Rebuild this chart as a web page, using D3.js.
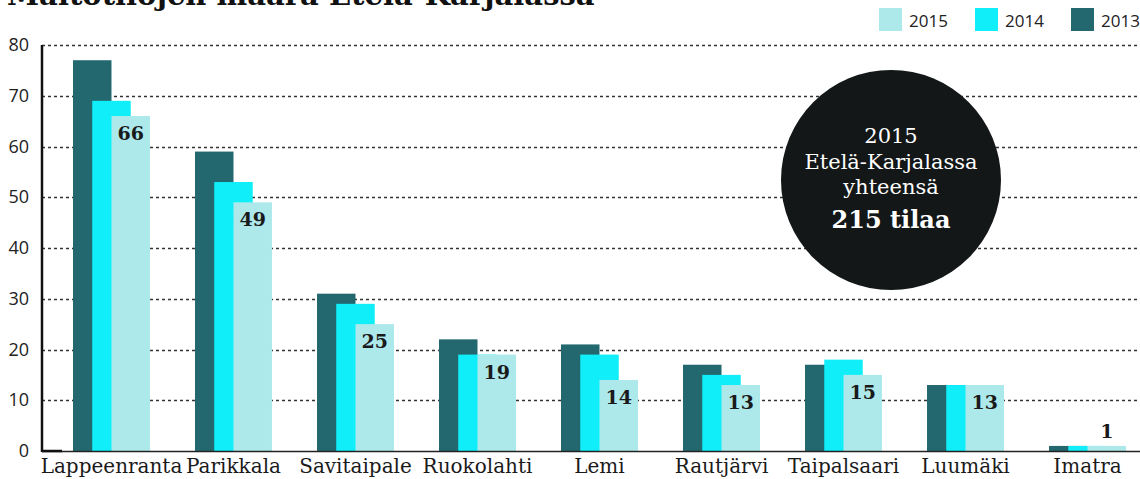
<!DOCTYPE html>
<html>
<head>
<meta charset="utf-8">
<script src="https://cdn.jsdelivr.net/npm/d3@7"></script>
<style>
  html, body { margin: 0; padding: 0; background: #fff; }
  svg { display: block; }
</style>
</head>
<body>
<div id="chart"></div>
<script>
const width = 1140;
const height = 479;

const municipalities = ['Lappeenranta', 'Parikkala', 'Savitaipale', 'Ruokolahti', 'Lemi', 'Rautjärvi', 'Taipalsaari', 'Luumäki', 'Imatra'];
const years = ['2013', '2014', '2015'];
const values2013 = [77, 59, 31, 22, 21, 17, 17, 13, 1];
const values2014 = [69, 53, 29, 19, 19, 15, 18, 13, 1];
const values2015 = [66, 49, 25, 19, 14, 13, 15, 13, 1];
const yTicks = [0, 10, 20, 30, 40, 50, 60, 70, 80];
const legendOrder = ['2015', '2014', '2013'];
const titleText = 'Maitotilojen määrä Etelä-Karjalassa';
const bubbleLines = ['2015', 'Etelä-Karjalassa', 'yhteensä'];
const bubbleTotal = '215 tilaa';

const colors = { '2013': '#22686e', '2014': '#10eef9', '2015': '#ade9eb' };
const seriesByYear = { '2013': values2013, '2014': values2014, '2015': values2015 };

const plotLeft = 42;
const plotTop = 45;
const plotBottom = 451;

const svg = d3.select('#chart')
    .append('svg')
    .attr('width', width)
    .attr('height', height);

// TITLE (cut off at the top, like in the source)
svg.append('text')
    .attr('x', 7)
    .attr('y', 5)
    .attr('font-family', 'DejaVu Serif')
    .attr('font-weight', 'bold')
    .attr('font-size', 29)
    .attr('fill', '#111')
    .text(titleText);

const y = d3.scaleLinear()
    .domain([0, 80])
    .range([plotBottom, plotTop]);

const x = d3.scaleBand()
    .domain(municipalities)
    .range([plotLeft, 1157])
    .paddingInner(0.369)
    .paddingOuter(0.254);

const barWidth = x.bandwidth() / 2;
const xYear = d3.scalePoint()
    .domain(years)
    .range([0, x.bandwidth() - barWidth]);

// GRID
svg.append('g')
    .selectAll('line')
    .data(yTicks.filter(d => d > 0))
    .join('line')
    .attr('x1', plotLeft)
    .attr('x2', width)
    .attr('y1', d => Math.round(y(d)) + 0.5)
    .attr('y2', d => Math.round(y(d)) + 0.5)
    .attr('stroke', '#333')
    .attr('stroke-width', 1.3)
    .attr('stroke-dasharray', '3,3');

// TICK LABELS
svg.append('g')
    .selectAll('text')
    .data(yTicks)
    .join('text')
    .attr('x', 29)
    .attr('y', d => y(d) + 6)
    .attr('text-anchor', 'end')
    .attr('font-family', 'Open Sans')
    .attr('font-size', 18)
    .attr('fill', '#222')
    .text(d => d);

// BARS
const groups = svg.append('g')
    .selectAll('g')
    .data(municipalities)
    .join('g')
    .attr('transform', d => `translate(${x(d)},0)`);

groups.selectAll('rect')
    .data((d, i) => years.map(yr => ({ year: yr, value: seriesByYear[yr][i] })))
    .join('rect')
    .attr('x', d => xYear(d.year))
    .attr('y', d => y(d.value))
    .attr('width', barWidth)
    .attr('height', d => plotBottom - y(d.value))
    .attr('fill', d => colors[d.year]);

// VALUE LABELS (2015)
groups.append('text')
    .attr('x', xYear('2015') + barWidth / 2)
    .attr('y', (d, i) => {
        const v = values2015[i];
        return v < 5 ? y(v) - 8 : y(v) + 24;
    })
    .attr('text-anchor', 'middle')
    .attr('font-family', 'DejaVu Serif')
    .attr('font-weight', 'bold')
    .attr('font-size', 19)
    .attr('fill', '#1a1a1a')
    .text((d, i) => values2015[i]);

// CATEGORY LABELS
groups.append('text')
    .attr('x', x.bandwidth() / 2)
    .attr('y', 473)
    .attr('text-anchor', 'middle')
    .attr('font-family', 'DejaVu Serif')
    .attr('font-size', 20)
    .attr('fill', '#1a1a1a')
    .text(d => d);

// AXES LINES
svg.append('line')
    .attr('x1', plotLeft)
    .attr('x2', width)
    .attr('y1', plotBottom + 0.5)
    .attr('y2', plotBottom + 0.5)
    .attr('stroke', '#222')
    .attr('stroke-width', 1.5);
svg.append('line')
    .attr('x1', plotLeft)
    .attr('x2', plotLeft + 20)
    .attr('y1', plotBottom)
    .attr('y2', plotBottom)
    .attr('stroke', '#111')
    .attr('stroke-width', 2.5);
svg.append('line')
    .attr('x1', plotLeft)
    .attr('x2', plotLeft)
    .attr('y1', plotTop)
    .attr('y2', plotBottom + 1)
    .attr('stroke', '#111')
    .attr('stroke-width', 2.5);

// LEGEND
const legend = svg.append('g')
    .selectAll('g')
    .data(legendOrder)
    .join('g')
    .attr('transform', (d, i) => `translate(${879 + i * 96},8)`);
legend.append('rect')
    .attr('width', 23)
    .attr('height', 23)
    .attr('fill', d => colors[d]);
legend.append('text')
    .attr('x', 30)
    .attr('y', 19)
    .attr('font-family', 'Open Sans')
    .attr('font-size', 17)
    .attr('fill', '#222')
    .text(d => d);

// TOTAL BUBBLE
const bubble = svg.append('g').attr('transform', 'translate(891,180)');
bubble.append('circle')
    .attr('r', 110)
    .attr('fill', '#131718');
bubble.selectAll('text.line')
    .data(bubbleLines)
    .join('text')
    .attr('class', 'line')
    .attr('x', 0)
    .attr('y', (d, i) => -37 + i * 25.5)
    .attr('text-anchor', 'middle')
    .attr('font-family', 'DejaVu Serif')
    .attr('font-size', 21)
    .attr('fill', '#fff')
    .text(d => d);
bubble.append('text')
    .attr('x', 0)
    .attr('y', 48)
    .attr('text-anchor', 'middle')
    .attr('font-family', 'DejaVu Serif')
    .attr('font-weight', 'bold')
    .attr('font-size', 24)
    .attr('fill', '#fff')
    .text(bubbleTotal);
</script>
</body>
</html>
